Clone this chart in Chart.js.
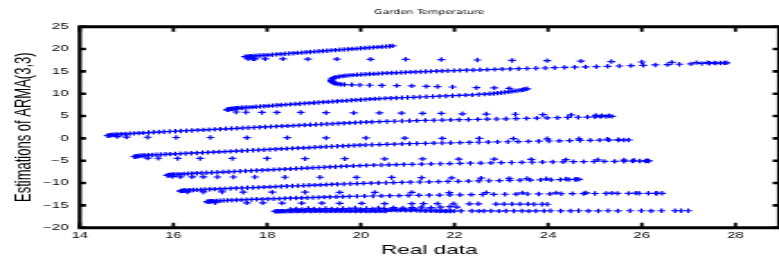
<!DOCTYPE html>
<html lang="en">
<head>
    <meta charset="UTF-8">
    <title>Garden Temperature</title>
    <script src="https://cdn.jsdelivr.net/npm/chart.js"></script>
    <style>
        body {
            margin: 0;
            background-color: white;
            overflow: hidden;
        }
        /* the reference figure is stretched sideways, so draw narrow and stretch */
        .stretch {
            width: 433px;
            height: 262px;
            transform: scaleX(1.7991);
            transform-origin: 0 0;
        }
    </style>
</head>
<body>
    <div class="stretch">
        <canvas id="tempChart" width="433" height="262"></canvas>
    </div>

    <script>
        // Real data (x) against estimations of ARMA(3,3) (y)
        const realA = [17.53, 17.57, 17.61, 17.66, 17.72, 17.79, 17.86, 17.94, 18.02, 18.11, 18.2, 18.29, 18.38, 18.47, 18.56, 18.65, 18.74, 18.83, 18.92, 19.01, 19.1, 19.19, 19.28, 19.37, 19.46, 19.55, 19.64, 19.73, 19.82, 19.91, 20.0, 20.09, 20.18, 20.27, 20.36, 20.45, 20.54, 20.62, 20.68];
        const estA = [18.3, 18.3, 18.35, 18.4, 18.45, 18.5, 18.55, 18.6, 18.65, 18.72, 18.8, 18.87, 18.95, 19.0, 19.07, 19.15, 19.2, 19.28, 19.35, 19.42, 19.5, 19.56, 19.63, 19.7, 19.77, 19.84, 19.9, 19.97, 20.04, 20.1, 20.17, 20.24, 20.3, 20.37, 20.44, 20.5, 20.57, 20.63, 20.7];
        const realA2 = [17.6, 17.7, 17.74, 17.96, 18.34, 18.87, 19.49, 20.21, 20.96, 21.72, 22.49, 23.23, 23.98, 24.7, 25.35, 26.0, 26.64, 27.17, 27.4, 27.55];
        const estA2 = [17.8, 17.8, 17.8, 17.8, 17.8, 17.75, 17.75, 17.7, 17.7, 17.65, 17.55, 17.45, 17.4, 17.3, 17.2, 17.1, 17.0, 16.95, 16.95, 16.9];

        const realB = [19.42, 19.47, 19.53, 19.6, 19.67, 19.75, 19.83, 19.92, 20.01, 20.1, 20.19, 20.28, 20.37, 20.46, 20.56, 20.66, 20.76, 20.86, 20.96, 21.06, 21.17, 21.28, 21.39, 21.5, 21.62, 21.74, 21.86, 21.99, 22.12, 22.26, 22.4, 22.55, 22.7, 22.86, 23.02, 23.19, 23.37, 23.55, 23.74, 23.94, 24.14, 24.35, 24.57, 24.8, 25.03, 25.27, 25.52, 25.77, 26.03, 26.29, 26.55, 26.8, 27.05, 27.28, 27.45, 27.58, 27.68, 27.76, 27.81];
        const estB = [13.55, 13.7, 13.82, 13.93, 14.02, 14.1, 14.17, 14.23, 14.29, 14.35, 14.4, 14.45, 14.5, 14.55, 14.6, 14.65, 14.7, 14.74, 14.78, 14.83, 14.87, 14.92, 14.96, 15.0, 15.05, 15.1, 15.14, 15.18, 15.22, 15.26, 15.3, 15.35, 15.4, 15.45, 15.5, 15.55, 15.6, 15.65, 15.7, 15.76, 15.82, 15.88, 15.94, 16.0, 16.07, 16.14, 16.21, 16.28, 16.36, 16.44, 16.52, 16.6, 16.68, 16.76, 16.82, 16.86, 16.88, 16.9, 16.92];
        const realB2 = [19.38, 19.37, 19.38, 19.4, 19.43, 19.47, 19.52, 19.58, 19.65, 19.81, 19.98, 20.19, 20.45, 20.77, 21.09, 21.4, 21.64, 21.96, 22.47, 22.85, 23.17];
        const estB2 = [13.3, 13.0, 12.75, 12.55, 12.4, 12.28, 12.18, 12.1, 12.05, 12.0, 11.95, 11.9, 11.85, 11.8, 11.75, 11.65, 11.6, 11.5, 11.35, 11.3, 11.2];

        const realC = [17.15, 17.16, 17.18, 17.2, 17.23, 17.26, 17.3, 17.35, 17.4, 17.46, 17.53, 17.6, 17.68, 17.76, 17.85, 17.94, 18.03, 18.12, 18.21, 18.3, 18.4, 18.5, 18.6, 18.7, 18.8, 18.9, 19.0, 19.1, 19.2, 19.3, 19.4, 19.5, 19.6, 19.7, 19.8, 19.9, 20.0, 20.1, 20.2, 20.3, 20.4, 20.52, 20.64, 20.76, 20.88, 21.0, 21.13, 21.26, 21.4, 21.54, 21.68, 21.82, 21.96, 22.1, 22.24, 22.38, 22.52, 22.64, 22.75, 22.84, 22.92, 23.0, 23.08, 23.16, 23.24, 23.32, 23.4, 23.46, 23.51, 23.55];
        const estC = [6.4, 6.45, 6.5, 6.55, 6.6, 6.65, 6.7, 6.75, 6.8, 6.85, 6.9, 6.95, 7.0, 7.07, 7.14, 7.2, 7.27, 7.34, 7.41, 7.48, 7.55, 7.62, 7.69, 7.76, 7.83, 7.9, 7.97, 8.04, 8.11, 8.18, 8.25, 8.32, 8.39, 8.46, 8.53, 8.6, 8.66, 8.72, 8.78, 8.84, 8.9, 8.95, 9.0, 9.05, 9.1, 9.15, 9.2, 9.26, 9.32, 9.38, 9.44, 9.5, 9.56, 9.62, 9.68, 9.75, 9.83, 9.9, 9.98, 10.06, 10.14, 10.22, 10.32, 10.42, 10.54, 10.66, 10.78, 10.9, 11.0, 11.1];
        const realC2 = [17.34, 17.55, 17.89, 18.21, 18.72, 19.26, 19.85, 20.4, 20.87, 21.32, 21.72, 22.17, 22.68, 23.3, 23.89, 24.49, 25.02, 25.15, 25.3];
        const estC2 = [5.9, 5.85, 5.8, 5.8, 5.8, 5.75, 5.7, 5.7, 5.65, 5.6, 5.6, 5.5, 5.45, 5.4, 5.3, 5.25, 5.15, 5.1, 5.05];

        const realD = [14.6, 14.62, 14.65, 14.68, 14.72, 14.77, 14.83, 14.9, 14.98, 15.07, 15.16, 15.26, 15.36, 15.47, 15.58, 15.69, 15.8, 15.92, 16.04, 16.16, 16.28, 16.4, 16.52, 16.64, 16.76, 16.88, 17.0, 17.12, 17.24, 17.36, 17.48, 17.6, 17.72, 17.84, 17.96, 18.08, 18.2, 18.32, 18.44, 18.56, 18.68, 18.8, 18.92, 19.04, 19.16, 19.28, 19.4, 19.52, 19.64, 19.76, 19.88, 20.0, 20.12, 20.24, 20.4, 20.56, 20.72, 20.88, 21.04, 21.2, 21.38, 21.56, 21.74, 21.92, 22.1, 22.3, 22.5, 22.7, 22.9, 23.1, 23.32, 23.54, 23.76, 23.98, 24.2, 24.42, 24.64, 24.84, 25.0, 25.12, 25.24, 25.36];
        const estD = [0.6, 0.65, 0.7, 0.75, 0.8, 0.85, 0.9, 0.95, 1.0, 1.06, 1.12, 1.18, 1.24, 1.3, 1.36, 1.42, 1.48, 1.54, 1.6, 1.66, 1.72, 1.78, 1.84, 1.9, 1.96, 2.02, 2.08, 2.14, 2.2, 2.26, 2.32, 2.38, 2.44, 2.5, 2.56, 2.62, 2.68, 2.74, 2.8, 2.86, 2.92, 2.98, 3.04, 3.1, 3.16, 3.22, 3.28, 3.34, 3.4, 3.46, 3.52, 3.58, 3.63, 3.68, 3.74, 3.79, 3.84, 3.89, 3.94, 3.98, 4.02, 4.06, 4.1, 4.14, 4.18, 4.22, 4.26, 4.3, 4.34, 4.38, 4.43, 4.48, 4.53, 4.58, 4.63, 4.68, 4.73, 4.78, 4.82, 4.86, 4.9, 4.93];
        const realD2 = [14.8, 15.0, 15.45, 16.06, 16.79, 17.57, 18.43, 19.26, 20.11, 20.94, 21.74, 22.53, 23.26, 23.98, 24.66, 25.26, 25.5];
        const estD2 = [0.4, 0.3, 0.25, 0.2, 0.2, 0.15, 0.15, 0.1, 0.1, 0.05, 0.0, 0.0, -0.05, -0.1, -0.1, -0.2, -0.3];

        const realE = [15.17, 15.19, 15.22, 15.25, 15.29, 15.34, 15.4, 15.47, 15.55, 15.64, 15.73, 15.83, 15.93, 16.04, 16.15, 16.26, 16.38, 16.5, 16.62, 16.74, 16.86, 16.98, 17.1, 17.22, 17.34, 17.46, 17.58, 17.7, 17.82, 17.94, 18.06, 18.18, 18.3, 18.42, 18.54, 18.66, 18.78, 18.9, 19.02, 19.14, 19.26, 19.38, 19.5, 19.62, 19.74, 19.86, 19.98, 20.1, 20.24, 20.4, 20.56, 20.72, 20.88, 21.04, 21.2, 21.38, 21.56, 21.74, 21.92, 22.12, 22.32, 22.52, 22.72, 22.92, 23.14, 23.36, 23.58, 23.8, 24.02, 24.24, 24.46, 24.68, 24.9, 25.1, 25.3, 25.5, 25.62, 25.72];
        const estE = [-4.1, -4.05, -4.0, -3.95, -3.9, -3.85, -3.8, -3.76, -3.72, -3.67, -3.62, -3.57, -3.52, -3.47, -3.42, -3.37, -3.32, -3.26, -3.2, -3.14, -3.08, -3.02, -2.96, -2.9, -2.84, -2.78, -2.72, -2.66, -2.6, -2.54, -2.48, -2.42, -2.36, -2.3, -2.24, -2.18, -2.12, -2.06, -2.0, -1.94, -1.88, -1.82, -1.76, -1.7, -1.64, -1.58, -1.53, -1.48, -1.43, -1.38, -1.33, -1.28, -1.23, -1.19, -1.15, -1.11, -1.07, -1.03, -0.99, -0.95, -0.91, -0.87, -0.83, -0.79, -0.75, -0.71, -0.67, -0.63, -0.59, -0.55, -0.51, -0.47, -0.43, -0.4, -0.38, -0.37, -0.36, -0.35];
        const realE2 = [15.45, 15.68, 16.09, 16.57, 17.26, 18.0, 18.81, 19.66, 20.51, 21.32, 22.09, 22.85, 23.64, 24.38, 25.06, 25.62, 25.83, 26.11];
        const estE2 = [-4.4, -4.45, -4.5, -4.5, -4.5, -4.5, -4.55, -4.55, -4.6, -4.6, -4.65, -4.65, -4.7, -4.75, -4.8, -4.85, -4.9, -5.0];

        const realF = [15.87, 15.89, 15.92, 15.96, 16.01, 16.07, 16.14, 16.22, 16.31, 16.4, 16.5, 16.6, 16.71, 16.82, 16.94, 17.06, 17.18, 17.3, 17.42, 17.54, 17.66, 17.78, 17.9, 18.02, 18.14, 18.26, 18.38, 18.5, 18.62, 18.74, 18.86, 18.98, 19.1, 19.22, 19.34, 19.46, 19.58, 19.7, 19.84, 19.98, 20.12, 20.28, 20.44, 20.6, 20.76, 20.92, 21.1, 21.3, 21.5, 21.7, 21.9, 22.12, 22.34, 22.56, 22.78, 23.0, 23.22, 23.44, 23.66, 23.88, 24.1, 24.32, 24.54, 24.76, 24.98, 25.2, 25.42, 25.62, 25.8, 25.96, 26.08, 26.15];
        const estF = [-8.3, -8.25, -8.2, -8.15, -8.1, -8.05, -8.0, -7.95, -7.9, -7.85, -7.8, -7.75, -7.7, -7.65, -7.6, -7.54, -7.48, -7.42, -7.36, -7.3, -7.24, -7.18, -7.12, -7.06, -7.0, -6.94, -6.88, -6.82, -6.76, -6.7, -6.64, -6.58, -6.52, -6.46, -6.4, -6.34, -6.28, -6.22, -6.16, -6.1, -6.05, -6.0, -5.96, -5.92, -5.88, -5.84, -5.8, -5.76, -5.72, -5.68, -5.64, -5.6, -5.56, -5.52, -5.48, -5.44, -5.4, -5.37, -5.34, -5.31, -5.28, -5.25, -5.22, -5.2, -5.18, -5.16, -5.14, -5.12, -5.1, -5.08, -5.06, -5.05];
        const realF2 = [15.98, 16.15, 16.4, 16.64, 16.94, 17.28, 17.74, 18.38, 19.13, 19.91, 20.66, 21.3, 21.94, 22.57, 23.17, 23.55, 23.96, 24.38, 24.6];
        const estF2 = [-8.55, -8.6, -8.6, -8.6, -8.65, -8.65, -8.65, -8.7, -8.7, -8.75, -8.75, -8.8, -8.85, -8.9, -8.95, -9.0, -9.05, -9.1, -9.15];

        const realG = [16.15, 16.17, 16.2, 16.24, 16.29, 16.35, 16.42, 16.5, 16.59, 16.68, 16.78, 16.88, 16.99, 17.1, 17.22, 17.34, 17.46, 17.58, 17.7, 17.82, 17.94, 18.06, 18.18, 18.3, 18.42, 18.54, 18.66, 18.78, 18.9, 19.02, 19.14, 19.26, 19.38, 19.5, 19.64, 19.78, 19.92, 20.06, 20.22, 20.38, 20.54, 20.7, 20.88, 21.06, 21.26, 21.46, 21.66, 21.86, 22.08, 22.3, 22.52, 22.74, 22.96, 23.18, 23.4, 23.62, 23.84, 24.06, 24.26, 24.44, 24.58, 24.66];
        const estG = [-11.8, -11.76, -11.72, -11.68, -11.64, -11.6, -11.56, -11.52, -11.48, -11.44, -11.4, -11.36, -11.31, -11.26, -11.21, -11.16, -11.11, -11.06, -11.01, -10.96, -10.91, -10.86, -10.81, -10.76, -10.71, -10.66, -10.61, -10.56, -10.51, -10.46, -10.41, -10.36, -10.31, -10.26, -10.21, -10.16, -10.11, -10.06, -10.01, -9.97, -9.93, -9.89, -9.85, -9.81, -9.77, -9.73, -9.69, -9.65, -9.61, -9.57, -9.53, -9.49, -9.45, -9.41, -9.37, -9.33, -9.3, -9.27, -9.24, -9.22, -9.2, -9.18];
        const realG2 = [16.3, 16.64, 17.04, 17.49, 18.11, 18.81, 19.55, 20.3, 21.09, 21.89, 22.68, 23.45, 24.17, 24.81, 25.36, 25.87, 26.32];
        const estG2 = [-12.0, -12.0, -12.0, -12.05, -12.05, -12.05, -12.1, -12.1, -12.1, -12.15, -12.15, -12.2, -12.2, -12.2, -12.25, -12.25, -12.3];

        const realH = [16.72, 16.74, 16.77, 16.81, 16.86, 16.92, 16.99, 17.07, 17.16, 17.25, 17.35, 17.45, 17.56, 17.67, 17.78, 17.9, 18.02, 18.14, 18.26, 18.38, 18.5, 18.62, 18.74, 18.86, 18.98, 19.1, 19.22, 19.34, 19.48, 19.62, 19.76, 19.92, 20.08, 20.26, 20.44, 20.62, 20.82, 21.02, 21.24, 21.46, 21.68, 21.9, 22.12, 22.36, 22.6, 22.84, 23.08, 23.32, 23.56, 23.8, 24.04, 24.28, 24.52, 24.76, 25.0, 25.24, 25.48, 25.72, 25.94, 26.14, 26.3, 26.43];
        const estH = [-14.2, -14.16, -14.12, -14.08, -14.04, -14.0, -13.96, -13.92, -13.88, -13.84, -13.8, -13.76, -13.72, -13.68, -13.64, -13.6, -13.56, -13.52, -13.48, -13.44, -13.4, -13.36, -13.32, -13.28, -13.24, -13.2, -13.16, -13.12, -13.08, -13.04, -13.0, -12.96, -12.93, -12.9, -12.87, -12.84, -12.81, -12.78, -12.75, -12.72, -12.69, -12.66, -12.63, -12.6, -12.57, -12.54, -12.51, -12.48, -12.46, -12.44, -12.42, -12.4, -12.38, -12.36, -12.34, -12.33, -12.32, -12.31, -12.3, -12.3, -12.3, -12.3];
        const realH2 = [16.89, 17.57, 17.91, 18.32, 18.74, 19.17, 19.55, 20.02, 20.51, 21.09, 21.34, 21.64, 21.98, 22.32, 22.51, 22.89, 23.06, 23.23, 23.4, 23.57, 23.7, 23.87, 23.98];
        const estH2 = [-14.4, -14.45, -14.45, -14.5, -14.5, -14.5, -14.55, -14.55, -14.6, -14.6, -14.6, -14.6, -14.65, -14.65, -14.65, -14.7, -14.7, -14.7, -14.7, -14.7, -14.75, -14.75, -14.75];

        // bottom cluster and its tail
        const realI = [18.17, 18.2, 18.23, 18.27, 18.31, 18.35, 18.4, 18.45, 18.5, 18.55, 18.6, 18.65, 18.7, 18.75, 18.8, 18.86, 18.92, 18.98, 19.04, 19.1, 19.16, 19.22, 19.28, 19.34, 19.4, 19.46, 19.52, 19.58, 19.64, 19.7, 19.76, 19.82, 19.88, 19.94, 20.0, 20.06, 20.12, 20.18, 20.24, 20.3, 20.36, 20.42, 20.48, 20.54];
        const estI = [-16.35, -16.35, -16.3, -16.35, -16.3, -16.3, -16.35, -16.3, -16.25, -16.3, -16.25, -16.3, -16.2, -16.3, -16.25, -16.2, -16.3, -16.25, -16.2, -16.3, -16.2, -16.25, -16.3, -16.2, -16.25, -16.2, -16.3, -16.2, -16.25, -16.2, -16.3, -16.2, -16.25, -16.2, -16.3, -16.2, -16.25, -16.3, -16.2, -16.25, -16.3, -16.2, -16.25, -16.3];
        const realI2 = [18.5, 18.62, 18.75, 18.88, 19.0, 19.12, 19.25, 19.38, 19.5, 19.62, 19.75, 19.88, 20.0, 20.12, 20.25, 20.38, 20.5, 20.7, 20.9, 21.1, 21.3, 21.5, 21.7, 21.9, 22.05];
        const estI2 = [-15.9, -15.8, -15.9, -15.7, -15.8, -15.9, -15.7, -15.8, -15.9, -15.7, -15.8, -15.6, -15.9, -15.7, -15.8, -15.6, -15.7, -15.5, -15.6, -15.5, -15.4, -15.5, -15.4, -15.3, -15.4];
        const realI3 = [20.6, 20.66, 20.72, 20.78, 20.84, 20.9, 20.96, 21.02, 21.08, 21.14, 21.2, 21.26, 21.32, 21.38, 21.44, 21.5, 21.56, 21.62, 21.68, 21.74, 21.8, 21.86, 21.92];
        const estI3 = [-16.0, -16.05, -16.0, -16.1, -16.05, -16.0, -16.1, -16.05, -16.1, -16.0, -16.1, -16.15, -16.1, -16.2, -16.1, -16.2, -16.15, -16.2, -16.25, -16.2, -16.3, -16.25, -16.3];
        const realI4 = [21.99, 22.14, 22.37, 22.52, 22.63, 22.78, 22.95, 23.1, 23.27, 23.44, 23.59, 23.74, 23.91, 24.05, 24.27, 24.48, 24.65, 24.86, 25.07, 25.28, 25.49, 25.75, 25.99, 26.2, 26.42, 26.71, 26.84, 26.99];
        const estI4 = [-16.3, -16.25, -16.25, -16.3, -16.25, -16.25, -16.3, -16.25, -16.25, -16.25, -16.3, -16.25, -16.25, -16.2, -16.25, -16.25, -16.2, -16.25, -16.25, -16.2, -16.25, -16.2, -16.2, -16.25, -16.2, -16.2, -16.2, -16.2];

        const xTicks = [14, 16, 18, 20, 22, 24, 26, 28];
        const yTicks = [-20, -15, -10, -5, 0, 5, 10, 15, 20, 25];

        const rows = [
            [realA, estA], [realA2, estA2], [realB, estB], [realB2, estB2],
            [realC, estC], [realC2, estC2], [realD, estD], [realD2, estD2],
            [realE, estE], [realE2, estE2], [realF, estF], [realF2, estF2],
            [realG, estG], [realG2, estG2], [realH, estH], [realH2, estH2],
            [realI, estI], [realI2, estI2], [realI3, estI3], [realI4, estI4]
        ];

        function toPoints(xs, ys) {
            return xs.map((v, i) => ({ x: v, y: ys[i] }));
        }

        // MATLAB style box with inward ticks on all four sides
        const boxPlugin = {
            id: 'box',
            afterDraw(chart) {
                const { ctx, chartArea: a, scales } = chart;
                ctx.save();
                ctx.strokeStyle = '#000';
                ctx.lineWidth = 3;
                ctx.beginPath();
                ctx.moveTo(a.left - 1.1, a.top);
                ctx.lineTo(a.right, a.top);
                ctx.moveTo(a.left - 1.1, a.bottom);
                ctx.lineTo(a.right, a.bottom);
                ctx.stroke();
                ctx.lineWidth = 2.2;
                ctx.beginPath();
                ctx.moveTo(a.left, a.top);
                ctx.lineTo(a.left, a.bottom);
                ctx.moveTo(a.right, a.top);
                ctx.lineTo(a.right, a.bottom);
                ctx.stroke();

                ctx.lineWidth = 1.8;
                ctx.beginPath();
                xTicks.forEach(v => {
                    const px = scales.x.getPixelForValue(v);
                    ctx.moveTo(px, a.bottom);
                    ctx.lineTo(px, a.bottom - 5);
                    ctx.moveTo(px, a.top);
                    ctx.lineTo(px, a.top + 5);
                });
                ctx.stroke();
                ctx.lineWidth = 2.6;
                ctx.beginPath();
                yTicks.forEach(v => {
                    const py = scales.y.getPixelForValue(v);
                    ctx.moveTo(a.left, py);
                    ctx.lineTo(a.left + 3.5, py);
                    ctx.moveTo(a.right, py);
                    ctx.lineTo(a.right - 3.5, py);
                });
                ctx.stroke();
                ctx.restore();
            }
        };

        Chart.defaults.font.family = "'Liberation Sans', Arial, sans-serif";
        Chart.defaults.color = '#000';

        new Chart(document.getElementById('tempChart'), {
            type: 'scatter',
            data: {
                datasets: rows.map(r => ({
                    data: toPoints(r[0], r[1]),
                    pointStyle: 'cross',
                    pointRadius: 2.2,
                    pointBorderWidth: 1.2,
                    borderColor: '#0000ff',
                    backgroundColor: '#0000ff'
                }))
            },
            options: {
                responsive: false,
                devicePixelRatio: 1,
                animation: false,
                layout: {
                    autoPadding: false,
                    padding: { left: 0, right: -1.1, top: 0, bottom: 0 }
                },
                plugins: {
                    legend: { display: false },
                    tooltip: { enabled: false },
                    title: {
                        display: true,
                        fullSize: false,
                        text: 'Garden Temperature',
                        font: {
                            family: "'Liberation Sans Narrow', 'DejaVu Sans Condensed', 'Liberation Sans', sans-serif",
                            size: 6.6,
                            weight: 'normal'
                        },
                        padding: { top: 8.0, bottom: 10.8 }
                    }
                },
                scales: {
                    x: {
                        type: 'linear',
                        min: 14,
                        max: 28.93,
                        afterFit: s => { s.height = 34.3; },
                        grid: { display: false, drawTicks: false },
                        border: { display: false },
                        ticks: {
                            stepSize: 2,
                            includeBounds: false,
                            padding: 3.3,
                            font: { size: 8.3 },
                            callback: v => xTicks.includes(v) ? String(v) : ''
                        },
                        title: {
                            display: true,
                            text: 'Real data',
                            font: { size: 12.6 },
                            padding: { top: 0, bottom: 4.4 }
                        }
                    },
                    y: {
                        type: 'linear',
                        min: -20,
                        max: 25,
                        afterFit: s => { s.width = 44.3; },
                        grid: { display: false, drawTicks: false },
                        border: { display: false },
                        ticks: {
                            stepSize: 5,
                            padding: 6.3,
                            font: { size: 8.3 },
                            callback: v => v < 0 ? '\u2212' + Math.abs(v) : String(v)
                        },
                        title: {
                            display: true,
                            text: 'Estimations of ARMA(3,3)',
                            font: { size: 13 },
                            padding: { top: 5.8, bottom: 0 }
                        }
                    }
                }
            },
            plugins: [boxPlugin]
        });
    </script>
</body>
</html>
